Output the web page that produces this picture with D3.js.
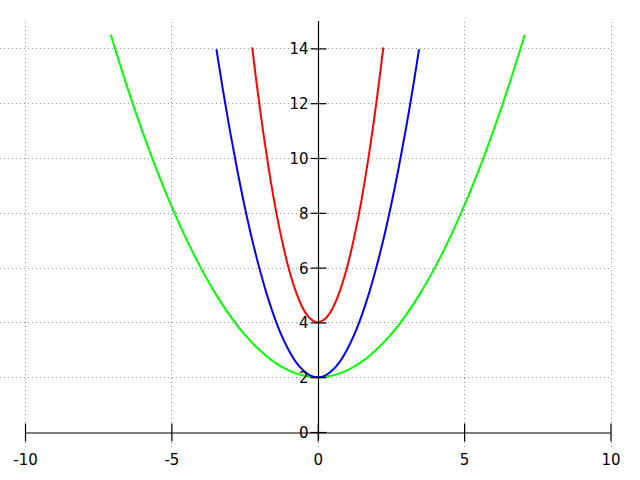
<!DOCTYPE html>
<html><head><meta charset="utf-8">
<script src="https://cdn.jsdelivr.net/npm/d3@7"></script>
<style>html,body{margin:0;padding:0;background:#fff;} text{font-family:"DejaVu Sans",sans-serif;font-size:15px;fill:#000;}</style>
</head><body>
<svg id="c" width="640" height="480"></svg>
<script>
const xTicks = [-10, -5, 0, 5, 10];
const yTicks = [0, 2, 4, 6, 8, 10, 12, 14];

const redX = [-2.24,-2,-1.75,-1.5,-1.25,-1,-0.75,-0.5,-0.25,0,0.25,0.5,0.75,1,1.25,1.5,1.75,2,2.24];
const redY = [14.04,12,10.13,8.5,7.13,6,5.13,4.5,4.13,4,4.13,4.5,5.13,6,7.13,8.5,10.13,12,14.04];

const blueX = [-3.46,-3.25,-3,-2.75,-2.5,-2.25,-2,-1.75,-1.5,-1.25,-1,-0.75,-0.5,-0.25,0,0.25,0.5,0.75,1,1.25,1.5,1.75,2,2.25,2.5,2.75,3,3.25,3.46];
const blueY = [13.97,12.56,11,9.56,8.25,7.06,6,5.06,4.25,3.56,3,2.56,2.25,2.06,2,2.06,2.25,2.56,3,3.56,4.25,5.06,6,7.06,8.25,9.56,11,12.56,13.97];

const greenX = [-7.07,-6.5,-6,-5.5,-5,-4.5,-4,-3.5,-3,-2.5,-2,-1.5,-1,-0.5,0,0.5,1,1.5,2,2.5,3,3.5,4,4.5,5,5.5,6,6.5,7.07];
const greenY = [14.5,12.56,11,9.56,8.25,7.06,6,5.06,4.25,3.56,3,2.56,2.25,2.06,2,2.06,2.25,2.56,3,3.56,4.25,5.06,6,7.06,8.25,9.56,11,12.56,14.5];

const series = [
  {x: greenX, y: greenY, color: "#00ff00"},
  {x: blueX, y: blueY, color: "#0000ff"},
  {x: redX, y: redY, color: "#ff0000"}
];

const svg = d3.select("#c");
const x = d3.scaleLinear().domain([-10, 10]).range([25, 610.5]);
const y = d3.scaleLinear().domain([0, 15]).range([432, 21]);

const fmt = d => String(d);

// grid
const grid = svg.append("g").attr("stroke", "#999").attr("stroke-width", 1)
  .attr("stroke-dasharray", "1,3").attr("shape-rendering", "crispEdges");
grid.selectAll("line.v").data(xTicks).join("line")
  .attr("x1", d => Math.round(x(d)) + 0.5).attr("x2", d => Math.round(x(d)) + 0.5)
  .attr("y1", 22).attr("y2", 448);
grid.selectAll("line.h").data(yTicks.filter(d => d !== 0)).join("line")
  .attr("x1", 0).attr("x2", 610)
  .attr("y1", d => Math.round(y(d)) + 0.5).attr("y2", d => Math.round(y(d)) + 0.5);

// curves
const line = d3.line().x(d => x(d[0])).y(d => y(d[1])).curve(d3.curveCatmullRom);
svg.append("g").selectAll("path").data(series).join("path")
  .attr("d", s => line(s.x.map((v, i) => [v, s.y[i]])))
  .attr("fill", "none").attr("stroke", s => s.color).attr("stroke-width", 2);

// x axis
const xAxis = d3.axisBottom(x).tickValues(xTicks).tickSize(0).tickFormat(fmt);
const gx = svg.append("g").attr("transform", "translate(0,432.5)").call(xAxis);
gx.attr("font-size", null).attr("font-family", null);
gx.select(".domain").attr("stroke", "#000").attr("stroke-width", 1.2);
gx.selectAll(".tick line").attr("y1", -9).attr("y2", 9).attr("stroke", "#000").attr("stroke-width", 1.2);
gx.selectAll(".tick text").attr("y", 32).attr("dy", 0);

// y axis
const yAxis = d3.axisLeft(y).tickValues(yTicks).tickSize(0).tickFormat(fmt);
const gy = svg.append("g").attr("transform", "translate(318.5,0)").call(yAxis);
gy.attr("font-size", null).attr("font-family", null);
gy.select(".domain").attr("stroke", "#000").attr("stroke-width", 1.2).attr("d", `M0,${y(15)}V${y(0) + 8}`);
gy.selectAll(".tick line").attr("x1", -8).attr("x2", 8).attr("stroke", "#000").attr("stroke-width", 1.2);
gy.selectAll(".tick text").attr("x", -10).attr("dy", "0.36em");
svg.selectAll(".domain").attr("fill", "none");
</script>
</body></html>
